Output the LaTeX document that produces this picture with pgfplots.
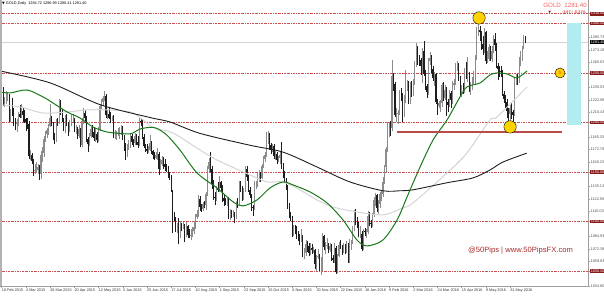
\documentclass[border=0pt]{standalone}
\usepackage{pgfplots}
\pgfplotsset{compat=1.18}
\usepackage{pgfplotstable}
\usepackage{fontspec}
\setmainfont{Liberation Sans}
\newfontfamily\sym{DejaVu Sans}
\definecolor{upc}{RGB}{140,140,140}
\definecolor{dnc}{RGB}{30,30,30}
\definecolor{lvl}{RGB}{205,80,80}
\definecolor{maroon}{RGB}{135,25,25}
\definecolor{magr}{RGB}{25,120,25}
\definecolor{lgray}{RGB}{212,212,212}
\definecolor{cyanbox}{RGB}{178,236,240}
\definecolor{gold}{RGB}{255,210,0}
\definecolor{wm}{RGB}{165,45,45}
\definecolor{hdr}{RGB}{240,95,95}
\definecolor{supp}{RGB}{185,75,75}
\pgfplotstableread{
i o h l c
0 1240 1241 1228 1233
1 1233 1236 1217 1220
2 1220 1226 1216 1221
3 1221 1232 1219 1227
4 1227 1231 1222 1227
5 1227 1229 1200 1208
6 1208 1214 1200 1212
7 1212 1225 1207 1210
8 1210 1215 1196 1203
9 1203 1205 1192 1198
10 1198 1203 1190 1200
11 1200 1211 1196 1209
12 1209 1218 1204 1206
13 1206 1219 1205 1212
14 1212 1215 1200 1208
15 1208 1213 1199 1203
16 1203 1205 1191 1200
17 1200 1205 1193 1198
18 1198 1201 1163 1166
19 1166 1172 1162 1167
20 1167 1169 1158 1161
21 1161 1163 1146 1151
22 1151 1158 1148 1152
23 1152 1160 1149 1152
24 1152 1158 1148 1155
25 1155 1157 1142 1148
26 1148 1171 1143 1167
27 1167 1175 1160 1169
28 1169 1186 1165 1183
29 1183 1191 1180 1188
30 1188 1194 1184 1192
31 1192 1198 1187 1196
32 1196 1219 1195 1204
33 1204 1207 1196 1199
34 1199 1200 1182 1186
35 1186 1189 1178 1183
36 1183 1203 1180 1201
37 1201 1205 1196 1200
38 1200 1224 1198 1219
39 1219 1223 1208 1210
40 1210 1214 1200 1203
41 1203 1205 1191 1193
42 1193 1208 1189 1206
43 1206 1209 1196 1197
44 1197 1200 1186 1193
45 1193 1202 1190 1200
46 1200 1208 1196 1203
47 1203 1209 1200 1203
48 1203 1204 1190 1192
49 1192 1197 1188 1192
50 1192 1195 1183 1186
51 1186 1197 1184 1193
52 1193 1194 1175 1177
53 1177 1205 1175 1201
54 1201 1215 1198 1210
55 1210 1213 1199 1204
56 1204 1207 1180 1183
57 1183 1185 1170 1178
58 1178 1189 1176 1186
59 1186 1195 1184 1193
60 1193 1197 1185 1190
61 1190 1194 1181 1184
62 1184 1194 1180 1188
63 1188 1190 1179 1182
64 1182 1195 1180 1193
65 1193 1219 1191 1217
66 1217 1224 1214 1221
67 1221 1227 1217 1225
68 1225 1232 1222 1227
69 1227 1229 1204 1208
70 1208 1213 1203 1209
71 1209 1215 1203 1205
72 1205 1211 1199 1204
73 1204 1207 1201 1206
74 1206 1208 1184 1186
75 1186 1192 1183 1187
76 1187 1191 1182 1188
77 1188 1194 1186 1190
78 1190 1195 1183 1193
79 1193 1197 1187 1194
80 1194 1196 1182 1184
81 1184 1187 1171 1175
82 1175 1179 1162 1168
83 1168 1178 1165 1174
84 1174 1182 1172 1176
85 1176 1189 1174 1186
86 1186 1188 1177 1180
87 1180 1183 1175 1179
88 1179 1189 1177 1186
89 1186 1188 1177 1180
90 1180 1186 1174 1177
91 1177 1205 1176 1201
92 1201 1204 1196 1200
93 1200 1202 1183 1185
94 1185 1188 1174 1176
95 1176 1178 1170 1173
96 1173 1178 1168 1171
97 1171 1176 1169 1172
98 1172 1187 1171 1179
99 1179 1181 1168 1171
100 1171 1172 1163 1167
101 1167 1170 1162 1164
102 1164 1170 1163 1167
103 1167 1174 1162 1168
104 1168 1170 1147 1153
105 1153 1163 1152 1158
106 1158 1166 1156 1162
107 1162 1165 1153 1158
108 1158 1163 1151 1155
109 1155 1158 1150 1154
110 1154 1156 1144 1147
111 1147 1150 1142 1146
112 1146 1147 1130 1131
113 1131 1132 1088 1106
114 1106 1110 1100 1103
115 1103 1105 1089 1091
116 1091 1098 1088 1094
117 1094 1103 1077 1085
118 1085 1100 1083 1097
119 1097 1098 1090 1095
120 1095 1099 1092 1096
121 1096 1097 1079 1088
122 1088 1099 1084 1095
123 1095 1096 1083 1086
124 1086 1092 1083 1085
125 1085 1092 1081 1086
126 1086 1094 1084 1090
127 1090 1100 1087 1094
128 1094 1108 1092 1104
129 1104 1112 1102 1108
130 1108 1127 1105 1123
131 1123 1126 1111 1115
132 1115 1118 1110 1113
133 1113 1120 1111 1118
134 1118 1121 1114 1117
135 1117 1130 1112 1128
136 1128 1156 1126 1153
137 1153 1164 1150 1160
138 1160 1170 1150 1153
139 1153 1156 1133 1138
140 1138 1142 1122 1125
141 1125 1130 1117 1124
142 1124 1136 1121 1133
143 1133 1140 1130 1132
144 1132 1146 1130 1140
145 1140 1141 1131 1134
146 1134 1137 1120 1124
147 1124 1127 1116 1121
148 1121 1124 1117 1120
149 1120 1124 1116 1120
150 1120 1125 1102 1104
151 1104 1113 1101 1110
152 1110 1112 1103 1108
153 1108 1112 1104 1108
154 1108 1110 1098 1103
155 1103 1121 1102 1119
156 1119 1124 1114 1118
157 1118 1141 1116 1138
158 1138 1141 1130 1133
159 1133 1136 1121 1124
160 1124 1134 1122 1131
161 1131 1156 1130 1153
162 1153 1156 1141 1145
163 1145 1147 1130 1132
164 1132 1135 1124 1127
165 1127 1128 1111 1115
166 1115 1117 1106 1114
167 1114 1141 1112 1137
168 1137 1141 1133 1137
169 1137 1149 1135 1146
170 1146 1152 1140 1146
171 1146 1150 1140 1144
172 1144 1158 1143 1156
173 1156 1166 1154 1163
174 1163 1170 1160 1167
175 1167 1190 1165 1187
176 1187 1191 1178 1187
177 1187 1189 1172 1177
178 1177 1179 1168 1172
179 1172 1178 1170 1176
180 1176 1178 1163 1166
181 1166 1171 1162 1168
182 1168 1170 1158 1162
183 1162 1166 1160 1164
184 1164 1170 1158 1167
185 1167 1180 1153 1155
186 1155 1159 1144 1148
187 1148 1151 1139 1142
188 1142 1144 1132 1135
189 1135 1137 1113 1116
190 1116 1119 1103 1105
191 1105 1110 1100 1104
192 1104 1106 1084 1088
193 1088 1096 1085 1093
194 1093 1096 1087 1090
195 1090 1095 1082 1085
196 1085 1090 1080 1084
197 1084 1087 1076 1081
198 1081 1092 1079 1084
199 1084 1086 1064 1068
200 1068 1073 1062 1068
201 1068 1081 1065 1077
202 1077 1080 1069 1075
203 1075 1078 1065 1068
204 1068 1078 1066 1073
205 1073 1077 1067 1071
206 1071 1074 1068 1071
207 1071 1072 1052 1057
208 1057 1066 1050 1064
209 1064 1072 1062 1065
210 1065 1067 1050 1053
211 1053 1064 1046 1053
212 1053 1088 1050 1085
213 1085 1086 1071 1074
214 1074 1079 1067 1075
215 1075 1083 1072 1076
216 1076 1078 1068 1071
217 1071 1078 1069 1075
218 1075 1077 1060 1063
219 1063 1066 1058 1061
220 1061 1078 1058 1073
221 1073 1075 1047 1049
222 1049 1067 1048 1065
223 1065 1079 1064 1076
224 1076 1081 1072 1075
225 1075 1076 1066 1069
226 1069 1078 1068 1076
227 1076 1077 1067 1069
228 1069 1080 1068 1077
229 1077 1078 1058 1060
230 1060 1082 1058 1074
231 1074 1081 1071 1078
232 1078 1095 1077 1092
233 1092 1112 1090 1108
234 1108 1113 1096 1098
235 1098 1104 1093 1097
236 1097 1099 1084 1086
237 1086 1095 1083 1087
238 1087 1090 1070 1072
239 1072 1092 1071 1090
240 1090 1093 1085 1089
241 1089 1092 1083 1089
242 1089 1111 1087 1106
243 1106 1110 1095 1098
244 1098 1101 1093 1097
245 1097 1109 1094 1107
246 1107 1125 1105 1122
247 1122 1129 1116 1127
248 1127 1128 1110 1114
249 1114 1122 1108 1118
250 1118 1130 1114 1128
251 1128 1131 1121 1128
252 1128 1145 1125 1140
253 1140 1157 1138 1155
254 1155 1175 1150 1173
255 1173 1200 1170 1197
256 1197 1200 1185 1197
257 1197 1201 1186 1194
258 1194 1263 1191 1247
259 1247 1250 1232 1239
260 1239 1241 1206 1208
261 1208 1215 1200 1209
262 1209 1213 1198 1210
263 1210 1233 1208 1231
264 1231 1235 1222 1229
265 1229 1230 1200 1209
266 1209 1228 1206 1225
267 1225 1253 1220 1238
268 1238 1243 1232 1239
269 1239 1242 1219 1221
270 1221 1241 1219 1238
271 1238 1242 1226 1231
272 1231 1244 1227 1241
273 1241 1262 1238 1259
274 1259 1280 1256 1271
275 1271 1277 1258 1264
276 1264 1268 1257 1263
277 1263 1265 1248 1257
278 1257 1275 1240 1272
279 1272 1282 1247 1249
280 1249 1253 1233 1237
281 1237 1239 1225 1231
282 1231 1265 1228 1262
283 1262 1271 1258 1265
284 1265 1268 1250 1254
285 1254 1257 1242 1245
286 1245 1251 1237 1249
287 1249 1250 1219 1221
288 1221 1224 1208 1217
289 1217 1222 1215 1220
290 1220 1223 1211 1220
291 1220 1240 1216 1238
292 1238 1241 1222 1225
293 1225 1238 1223 1233
294 1233 1236 1207 1221
295 1221 1224 1211 1218
296 1218 1233 1216 1230
297 1230 1232 1215 1223
298 1223 1242 1219 1238
299 1238 1244 1233 1240
300 1240 1260 1238 1256
301 1256 1262 1252 1259
302 1259 1260 1242 1245
303 1245 1247 1227 1228
304 1228 1238 1226 1235
305 1235 1240 1229 1234
306 1234 1255 1230 1253
307 1253 1261 1244 1249
308 1249 1266 1241 1249
309 1249 1251 1231 1233
310 1233 1241 1228 1238
311 1238 1246 1233 1244
312 1244 1252 1239 1250
313 1250 1268 1238 1266
314 1266 1296 1263 1292
315 1292 1303 1287 1293
316 1293 1297 1282 1291
317 1291 1292 1273 1279
318 1279 1287 1268 1274
319 1274 1295 1270 1291
320 1291 1292 1259 1262
321 1262 1272 1260 1264
322 1264 1279 1262 1276
323 1276 1277 1262 1264
324 1264 1277 1261 1272
325 1272 1288 1270 1284
326 1284 1290 1272 1278
327 1278 1280 1255 1257
328 1257 1260 1243 1254
329 1254 1257 1246 1252
330 1252 1257 1246 1251
331 1251 1253 1227 1229
332 1229 1232 1220 1224
333 1224 1228 1215 1221
334 1221 1224 1204 1212
335 1212 1215 1200 1209
336 1209 1218 1199 1215
337 1215 1220 1203 1211
338 1211 1213 1200 1208
339 1208 1245 1207 1243
340 1243 1249 1238 1246
341 1246 1249 1238 1244
342 1244 1266 1240 1263
343 1263 1272 1257 1270
344 1270 1277 1262 1275
345 1275 1288 1274 1285
346 1284.72 1286.99 1280.41 1281.40
}\candles
\newcommand{\tinyf}{\fontsize{3.8bp}{4bp}\selectfont}
\begin{document}
\begin{tikzpicture}
\useasboundingbox (0,0) rectangle (604bp,296bp);
\begin{axis}[
  at={(0,10bp)}, anchor=south west,
  scale only axis, width=588bp, height=286bp,
  xmin=-1.12, xmax=387.5, ymin=1034.8, ymax=1323.7,
  axis x line*=bottom, axis y line*=right,
  axis line style={color=gray!75, line width=0.6bp},
  tick style={color=gray!75, line width=0.4bp},
  tick align=outside, major tick length=2bp,
  xtick={0,16,...,336},
  xticklabels={10 Feb 2015, 4 Mar 2015, 26 Mar 2015, 20 Apr 2015, 12 May 2015, 3 Jun 2015, 25 Jun 2015, 17 Jul 2015, 10 Aug 2015, 1 Sep 2015, 23 Sep 2015, 15 Oct 2015, 6 Nov 2015, 30 Nov 2015, 22 Dec 2015, 18 Jan 2016, 9 Feb 2016, 2 Mar 2016, 24 Mar 2016, 15 Apr 2016, 9 May 2016, 31 May 2016},
  x tick label style={font=\tinyf, anchor=north west, inner sep=0pt, yshift=-0.5bp, text=black!80},
  ytick={1285.73,1273.18,1260.63,1235.53,1222.98,1210.43,1185.33,1172.78,1160.23,1135.13,1122.58,1110.03,1084.93,1072.38,1059.83,1034.80},
  scaled y ticks=false,
  y tick label style={font=\tinyf, anchor=west, inner sep=0.5bp, text=black!70,
    /pgf/number format/fixed, /pgf/number format/fixed zerofill, /pgf/number format/precision=2, /pgf/number format/1000 sep={}, /pgf/number format/assume math mode=true},
  extra y ticks={1310,1300,1250,1200,1150,1100,1050},
  extra y tick style={y tick label style={fill=maroon, text=white, inner sep=0.6bp}},
  clip=true,
]
% level lines
\pgfplotsinvokeforeach{1310,1300,1250,1200,1150,1100,1050}{
  \addplot[forget plot, lvl, line width=0.6bp, dash pattern=on 2bp off 1bp on 0.6bp off 1bp] coordinates {(-2,#1) (392,#1)};
}
% current price line
\addplot[forget plot, lgray, line width=0.7bp] coordinates {(-2,1281.4) (392,1281.4)};
% cyan target box
\addplot[forget plot, fill=cyanbox, draw=none] coordinates {(373.6,1300) (382.9,1300) (382.9,1197.5) (373.6,1197.5)};
% candles: wicks
\addplot[forget plot, draw=none, mark=none,
  restrict expr to domain={\thisrow{c}-\thisrow{o}}{0:1000},
  error bars/.cd, y dir=plus, y explicit, error mark=none,
  error bar style={line width=0.6bp, draw=upc}]
  table[x=i, y=l, y error plus expr=\thisrow{h}-\thisrow{l}] {\candles};
\addplot[forget plot, draw=none, mark=none,
  restrict expr to domain={\thisrow{c}-\thisrow{o}}{-1000:-0.001},
  error bars/.cd, y dir=plus, y explicit, error mark=none,
  error bar style={line width=0.6bp, draw=dnc}]
  table[x=i, y=l, y error plus expr=\thisrow{h}-\thisrow{l}] {\candles};
% candles: bodies
\addplot[forget plot, draw=none, mark=none,
  restrict expr to domain={\thisrow{c}-\thisrow{o}}{0:1000},
  error bars/.cd, y dir=plus, y explicit, error mark=none,
  error bar style={line width=1.25bp, draw=upc}]
  table[x=i, y=o, y error plus expr=\thisrow{c}-\thisrow{o}] {\candles};
\addplot[forget plot, draw=none, mark=none,
  restrict expr to domain={\thisrow{c}-\thisrow{o}}{-1000:-0.001},
  error bars/.cd, y dir=plus, y explicit, error mark=none,
  error bar style={line width=1.25bp, draw=dnc}]
  table[x=i, y=c, y error plus expr=\thisrow{o}-\thisrow{c}] {\candles};
% moving averages
\addplot[forget plot, lgray, line width=1bp, smooth] coordinates {(-1.1,1217.7) (12.1,1215.7) (27.3,1209.6) (43.2,1210.6) (56.4,1212.6) (71.6,1212.6) (86.8,1209.6) (100,1195) (113.2,1189.4) (131,1172.2) (142.3,1162.1) (164.1,1147) (175.3,1139.9) (185.9,1139.9) (197.2,1131.8) (208.4,1121.7) (219,1114.6) (234.8,1109.6) (252,1106.6) (263.3,1112.6) (271.8,1118.7) (294.3,1149) (307.5,1169.2) (322.7,1202.5) (327.4,1205.6) (347.2,1235.9)};
\addplot[forget plot, color=dnc, line width=0.9bp, smooth] coordinates {(-1.1,1252) (31.9,1240) (65,1218) (98,1205) (111.2,1200.5) (131,1189) (164,1177) (186,1170) (208.4,1155) (230,1140) (252,1131) (263,1131) (272,1132) (294,1139) (311.5,1144) (322.7,1152) (331.3,1160) (347,1169)};
\addplot[forget plot, magr, line width=1bp, smooth] coordinates {(-1.1,1230.8) (5.5,1229.8) (16.7,1232.8) (27.3,1225.8) (33.9,1219.7) (43.2,1210.6) (51.7,1204.5) (60.3,1195.5) (69.6,1190.4) (82.8,1188.4) (86.8,1189.4) (91.4,1193.4) (98,1195) (102.6,1194) (109.3,1187) (117.8,1172.2) (129.1,1149) (142.3,1133.8) (153,1119.7) (159.5,1115.7) (168.7,1121.7) (177.3,1133.8) (185.9,1139.9) (192.5,1136.9) (203.8,1129.8) (215,1118.7) (225.6,1101.5) (234.8,1081.3) (241.4,1075.3) (252,1081.3) (261.3,1101.5) (267.9,1124.7) (276.5,1155) (285.1,1182.3) (294.3,1202.5) (302.9,1225.8) (307.5,1235.9) (316.1,1239.9) (322.7,1248) (327.4,1250) (334,1249) (340.6,1245) (347.2,1252)};
% support line
\addplot[forget plot, supp, line width=1.1bp] coordinates {(261.3,1190.4) (370,1190.4)};
% circles
\addplot[forget plot, only marks, mark=*, mark size=6.2bp, mark options={draw=none, fill=gold}] coordinates {(315.5,1305.6) (336,1195.5)};
\addplot[forget plot, only marks, mark=*, mark size=5bp, mark options={draw=none, fill=gold}] coordinates {(369,1250)};
\end{axis}
% left window border
\draw[gray!60, line width=1.5bp] (0.75bp,10bp) -- (0.75bp,296bp);
% header texts
\node[anchor=west, inner sep=0pt, font=\tinyf] at (2bp,292bp) {{\sym\fontsize{3.5bp}{4bp}\selectfont ▼} GOLD,Daily\ \ 1284.72 1286.99 1280.41 1281.40};
\node[anchor=east, inner sep=0pt, text=hdr, font=\fontsize{6.2bp}{7bp}\selectfont] at (587bp,291bp) {GOLD\ \ 1281.40};
\node[anchor=east, inner sep=0pt, text=red!80!black, font=\tinyf] at (586bp,283bp) {{\sym\fontsize{3.5bp}{4bp}\selectfont ▼}\hspace{11bp}-3.87 | -0.31\%};
\node[text=orange!90!red, font=\fontsize{5bp}{6bp}\selectfont\bfseries, inner sep=0pt] at (560bp,223bp) {\$};
\node[anchor=west, fill=black, text=white, inner sep=0.6bp, font=\tinyf] at (590bp,254bp) {1281.40};
\node[text=wm, font=\fontsize{7.6bp}{8bp}\selectfont, inner sep=0pt] at (520.5bp,45bp) {@50Pips | www.50PipsFX.com};
\end{tikzpicture}
\end{document}
